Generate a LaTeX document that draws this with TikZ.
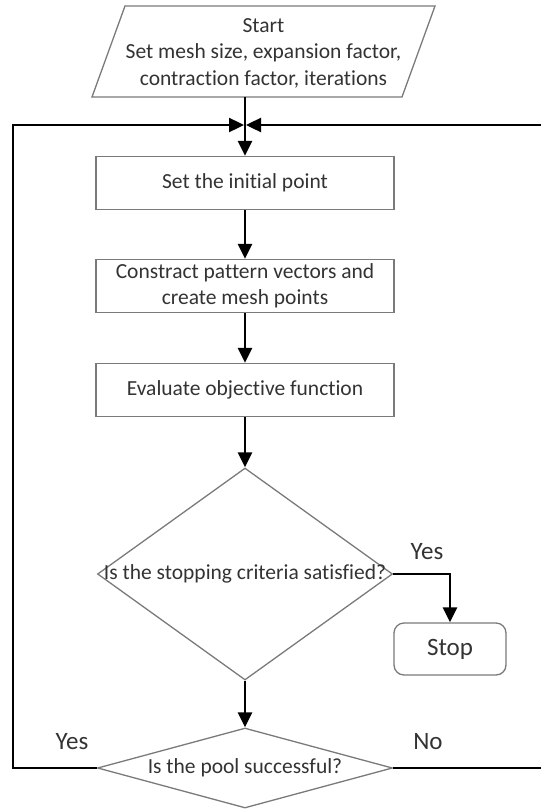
\documentclass[tikz,border=0pt]{standalone}
\usepackage{fontspec}
\setmainfont{Carlito}[Ligatures=NoCommon]
\usepackage{tikz}
\usetikzlibrary{shapes.geometric,arrows.meta}

\definecolor{edgegray}{HTML}{7A7A7A}
\definecolor{txtgray}{HTML}{333333}

\begin{document}
\begin{tikzpicture}[x=1pt,y=-1pt,
  every node/.style={text=txtgray,font=\fontsize{21.5}{26.5}\selectfont},
  procbox/.style={draw=edgegray,line width=1.3pt,minimum width=298pt,minimum height=53pt,inner sep=0pt,align=center},
  decision/.style={draw=edgegray,line width=1.3pt,diamond,inner sep=0pt},
  flow/.style={line width=2.4pt,-{Triangle[length=15pt,width=14pt]}},
  answord/.style={font=\fontsize{25}{28}\selectfont}]
\useasboundingbox (0,0) rectangle (541,809);

\draw[edgegray,line width=1.3pt] (125,6) -- (435,6) -- (402,97) -- (92,97) -- cycle;
\node[align=center] (start) at (263.5,53) {Start\\Set mesh size, expansion factor,\\contraction factor, iterations};
\coordinate (startout) at (245,97);
\coordinate (meet) at (245,125);

\node[procbox] (init) at (245,183) {Set the initial point};
\node[procbox] (pattern) at (245,286) {Constract pattern vectors and\\create mesh points};
\node[procbox] (eval) at (245,390) {Evaluate objective function};

\node[decision,minimum width=295pt,minimum height=212pt,
  label={center:Is the stopping criteria satisfied?}] (crit) at (245,574) {};
\node[draw=edgegray,line width=1.3pt,rounded corners=10pt,minimum width=112pt,minimum height=52pt,
  font=\fontsize{25}{28}\selectfont] (stop) at (450,649) {Stop};
\node[decision,minimum width=295pt,minimum height=80pt,
  label={center:Is the pool successful?}] (pool) at (245,768) {};

\draw[flow] (startout) -- (init.north);
\draw[flow] (init) -- (pattern);
\draw[flow] (pattern) -- (eval);
\draw[flow] (eval) -- (crit);
\draw[flow] (crit) -- (pool);
\draw[flow] (crit.east) -| (stop.north);
\draw[flow,shorten >=1pt] (pool.west) -- (13,768) -- (13,125) -- (meet);
\draw[flow,shorten >=1pt] (pool.east) -- (544,768) -- (544,125) -- (meet);

\node[answord] (yesstop) at (427,552) {Yes};
\node[answord] (yesloop) at (72,742) {Yes};
\node[answord] (noloop) at (428,742) {No};
\end{tikzpicture}
\end{document}
